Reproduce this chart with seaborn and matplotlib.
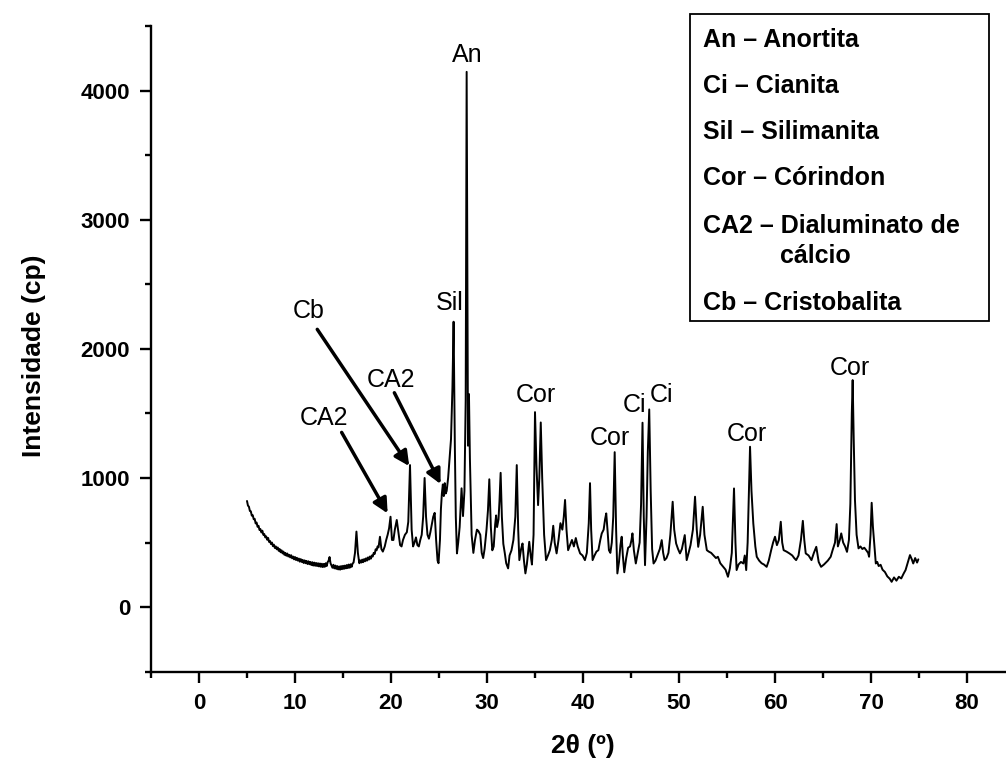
import matplotlib
matplotlib.use("Agg")
import matplotlib.pyplot as plt
from matplotlib.patches import Rectangle
from matplotlib.ticker import FixedLocator, MultipleLocator
import seaborn as sns
import pandas as pd

# X-ray diffractogram: diffraction angle 2θ (degrees) and counts
two_theta = [
    5.0, 5.1, 5.2, 5.3, 5.4, 5.5, 5.6, 5.7, 5.8, 5.9,
    6.0, 6.1, 6.2, 6.3, 6.4, 6.5, 6.6, 6.7, 6.8, 6.9,
    7.0, 7.1, 7.2, 7.3, 7.4, 7.5, 7.6, 7.7, 7.8, 7.9,
    8.0, 8.1, 8.2, 8.3, 8.4, 8.5, 8.6, 8.7, 8.8, 8.9,
    9.0, 9.1, 9.2, 9.3, 9.4, 9.5, 9.6, 9.7, 9.8, 9.9,
    10.0, 10.1, 10.2, 10.3, 10.4, 10.5, 10.6, 10.7, 10.8, 10.9,
    11.0, 11.1, 11.2, 11.3, 11.4, 11.5, 11.6, 11.7, 11.8, 11.9,
    12.0, 12.1, 12.2, 12.3, 12.4, 12.5, 12.6, 12.7, 12.8, 12.9,
    13.0, 13.1, 13.2, 13.3, 13.4, 13.5, 13.6, 13.7, 13.8, 13.9,
    14.0, 14.1, 14.2, 14.3, 14.4, 14.5, 14.6, 14.7, 14.8, 14.9,
    15.0, 15.1, 15.2, 15.3, 15.4, 15.5, 15.6, 15.7, 15.8, 15.9,
    16.0, 16.1, 16.25, 16.40, 16.55,
    16.70, 16.80, 16.90, 17.00, 17.10, 17.20, 17.30, 17.40, 17.50, 17.60,
    17.70, 17.80, 17.90, 18.00, 18.10, 18.20, 18.30, 18.40, 18.50, 18.60,
    18.70, 18.85, 19.00, 19.15, 19.35, 19.50, 19.65, 19.80, 19.95, 20.10,
    20.25, 20.40, 20.60, 20.80, 20.95, 21.10, 21.25, 21.45, 21.65, 21.80,
    21.98, 22.15, 22.30, 22.45, 22.60, 22.75, 22.90, 23.05, 23.20, 23.35,
    23.50, 23.65, 23.80, 23.95, 24.10, 24.25, 24.40, 24.55, 24.70, 24.85,
    24.95, 25.10, 25.20, 25.30, 25.40, 25.50, 25.60, 25.70, 25.80, 25.95,
    26.10, 26.25, 26.40, 26.52, 26.65, 26.75, 26.87, 27.00, 27.15, 27.35,
    27.50, 27.65, 27.78, 27.88, 28.02, 28.12, 28.22, 28.40, 28.58, 28.75,
    28.95, 29.10, 29.30, 29.45, 29.60, 29.75, 29.95, 30.10, 30.24, 30.40,
    30.55, 30.70, 30.85, 30.95, 31.05, 31.20, 31.30, 31.42, 31.55, 31.70,
    31.85, 32.00, 32.20, 32.35, 32.55, 32.75, 32.95, 33.10, 33.25, 33.37,
    33.55, 33.70, 33.85, 34.00, 34.15, 34.40, 34.55, 34.68, 34.85, 35.00,
    35.15, 35.32, 35.45, 35.60, 35.75, 35.95, 36.15, 36.35, 36.55, 36.75,
    36.90, 37.05, 37.25, 37.45, 37.65, 37.85, 38.00, 38.13, 38.28, 38.45,
    38.65, 38.85, 39.05, 39.25, 39.45, 39.70, 39.95, 40.20, 40.40, 40.60,
    40.73, 40.85, 41.00, 41.20, 41.40, 41.60, 41.80, 41.95, 42.15, 42.30,
    42.42, 42.55, 42.70, 42.85, 43.00, 43.15, 43.30, 43.45, 43.58, 43.75,
    43.90, 44.03, 44.15, 44.30, 44.50, 44.70, 44.90, 45.05, 45.15, 45.30,
    45.50, 45.70, 45.90, 46.05, 46.20, 46.33, 46.46, 46.62, 46.75, 46.90,
    47.05, 47.20, 47.35, 47.55, 47.75, 48.00, 48.20, 48.35, 48.50, 48.70,
    48.90, 49.10, 49.34, 49.50, 49.70, 49.90, 50.10, 50.30, 50.60, 50.80,
    51.00, 51.20, 51.45, 51.67, 51.85, 52.00, 52.20, 52.47, 52.65, 52.90,
    53.10, 53.35, 53.60, 53.85, 54.05, 54.30, 54.60, 54.85, 55.10, 55.30,
    55.50, 55.73, 55.88, 56.00, 56.20, 56.45, 56.70, 56.85, 57.00, 57.15,
    57.40, 57.55, 57.74, 57.95, 58.10, 58.35, 58.60, 58.85, 59.13, 59.35,
    59.60, 59.80, 60.00, 60.20, 60.40, 60.60, 60.75, 60.90, 61.20, 61.50,
    61.80, 62.00, 62.20, 62.45, 62.70, 62.90, 63.05, 63.20, 63.50, 63.80,
    64.05, 64.30, 64.55, 64.80, 65.10, 65.50, 65.80, 66.00, 66.25, 66.42,
    66.55, 66.75, 66.90, 67.10, 67.30, 67.50, 67.70, 67.85, 68.00, 68.09,
    68.20, 68.33, 68.50, 68.70, 68.90, 69.10, 69.30, 69.50, 69.70, 69.80,
    69.95, 70.07, 70.20, 70.35, 70.50, 70.65, 70.80, 71.00, 71.20, 71.45,
    71.70, 71.95, 72.15, 72.40, 72.65, 72.90, 73.15, 73.40, 73.60, 73.85,
    74.06, 74.25, 74.40, 74.60, 74.80, 74.93,
]
intensity = [
    822, 786, 778, 745, 742, 708, 712, 680, 684, 648,
    655, 622, 630, 598, 604, 578, 592, 560, 566, 540,
    548, 522, 536, 505, 512, 488, 500, 472, 484, 458,
    470, 448, 462, 436, 450, 425, 440, 416, 430, 405,
    420, 398, 415, 392, 405, 385, 402, 378, 392, 370,
    388, 365, 382, 360, 376, 352, 372, 350, 366, 342,
    362, 340, 358, 334, 355, 332, 350, 326, 348, 322,
    345, 320, 342, 318, 340, 315, 338, 312, 336, 310,
    335, 312, 340, 318, 348, 360, 388, 340, 322, 305,
    328, 300, 322, 296, 318, 292, 315, 290, 318, 294,
    320, 296, 322, 300, 326, 302, 330, 305, 332, 312,
    338, 345, 420, 585, 420,
    340, 362, 345, 368, 348, 372, 355, 378, 360, 385,
    368, 392, 375, 400, 392, 420, 412, 448, 440, 470,
    462, 545, 450, 430, 470, 520, 560, 610, 700, 520,
    520, 600, 675, 560, 480, 470, 520, 560, 580, 660,
    1100, 600, 470, 500, 540, 480, 470, 520, 560, 700,
    1000, 700, 560, 530, 580, 640, 700, 730, 520, 360,
    340, 520, 760, 880, 950, 860, 960, 880, 900, 1000,
    1150, 1300, 1700, 2210, 1250, 700, 416, 500, 620, 920,
    705, 900, 1600, 4145, 1250, 1650, 1150, 560, 420, 520,
    600, 590, 560, 420, 380, 450, 600, 750, 990, 620,
    440, 470, 640, 710, 620, 680, 820, 1040, 700, 490,
    420, 340, 300, 400, 440, 520, 700, 1100, 600, 364,
    450, 493, 360, 261, 330, 506, 400, 330, 560, 1510,
    1100, 790, 1000, 1430, 1000, 560, 364, 400, 441, 520,
    630, 500, 416, 520, 650, 600, 700, 830, 600, 441,
    480, 520, 470, 535, 470, 416, 400, 364, 420, 650,
    960, 600, 364, 400, 430, 441, 520, 570, 600, 680,
    726, 600, 441, 420, 500, 700, 1200, 600, 261, 350,
    480, 545, 400, 270, 380, 460, 470, 520, 571, 440,
    338, 420, 500, 800, 1428, 700, 325, 700, 1200, 1531,
    900, 450, 338, 360, 400, 450, 519, 420, 364, 380,
    420, 560, 816, 600, 493, 450, 416, 450, 558, 364,
    420, 480, 600, 855, 600, 467, 560, 777, 560, 441,
    430, 420, 400, 380, 390, 340, 312, 290, 235, 300,
    420, 919, 500, 287, 330, 350, 338, 400, 287, 500,
    1242, 900, 648, 470, 390, 360, 340, 330, 312, 360,
    441, 500, 545, 480, 520, 661, 500, 441, 430, 416,
    400, 380, 364, 400, 520, 668, 520, 416, 400, 364,
    420, 467, 350, 312, 330, 360, 390, 441, 500, 643,
    470, 520, 571, 500, 470, 428, 520, 800, 1500, 1758,
    1300, 829, 560, 455, 470, 450, 460, 441, 420, 390,
    560, 808, 622, 480, 338, 350, 318, 328, 290, 272,
    238, 220, 196, 230, 205, 235, 222, 260, 287, 350,
    403, 370, 338, 380, 345, 370,
]

# Phase labels placed directly above their peaks
peak_names = ["An", "Sil", "Cor", "Cor", "Ci", "Ci", "Cor", "Cor"]
peak_label_x = [27.9, 26.15, 35.1, 42.8, 45.4, 48.2, 57.1, 67.8]
peak_label_y = [4276, 2355, 1642, 1313, 1565, 1642, 1340, 1855]

# Phase labels connected to their peaks with arrows
arrow_names = ["Cb", "CA2", "CA2"]
arrow_text_xy = [(11.46, 2293), (19.98, 1758), (13.0, 1464)]
arrow_tail_xy = [(12.32, 2151), (20.35, 1660), (14.86, 1353)]
arrow_tip_xy = [(21.9, 1092), (25.17, 953), (19.65, 726)]

# Key of phase abbreviations
key_lines = [
    "An \u2013 Anortita",
    "Ci \u2013 Cianita",
    "Sil \u2013 Silimanita",
    "Cor \u2013 C\u00f3rindon",
    "CA2 \u2013 Dialuminato de",
    "c\u00e1lcio",
    "Cb \u2013 Cristobalita",
]

x_ticks = [0, 10, 20, 30, 40, 50, 60, 70, 80]
y_ticks = [0, 1000, 2000, 3000, 4000]

sns.set_style("ticks")
plt.rcParams["font.family"] = ["Liberation Sans", "DejaVu Sans"]
plt.rcParams.update({
    "text.color": "black",
    "axes.labelcolor": "black",
    "axes.edgecolor": "black",
    "xtick.color": "black",
    "ytick.color": "black",
})

W, H = 1006, 764
fig = plt.figure(figsize=(W / 100, H / 100), dpi=100)
ax_left, ax_bottom, ax_right, ax_top = 151, 671.7, 1015, 26
ax = fig.add_axes([ax_left / W, 1 - ax_bottom / H,
                   (ax_right - ax_left) / W, (ax_bottom - ax_top) / H])

df = pd.DataFrame({"two_theta": two_theta, "intensity": intensity})
sns.lineplot(data=df, x="two_theta", y="intensity", ax=ax,
             color="black", linewidth=1.4, sort=False, estimator=None)

ax.set_xlim(-5, 85)
ax.set_ylim(-500, 4500)
ax.xaxis.set_major_locator(FixedLocator(x_ticks))
ax.xaxis.set_minor_locator(MultipleLocator(5))
ax.yaxis.set_major_locator(FixedLocator(y_ticks))
ax.yaxis.set_minor_locator(MultipleLocator(500))
ax.set_xticklabels([str(v) for v in x_ticks])
ax.set_yticklabels([str(v) for v in y_ticks])

for side in ("top", "right"):
    ax.spines[side].set_visible(False)
for side in ("left", "bottom"):
    ax.spines[side].set_linewidth(1.7)

ax.tick_params(which="major", direction="out", length=8, width=1.7,
               labelsize=16, pad=7)
ax.tick_params(which="minor", direction="out", length=4.5, width=1.7)
for lbl in ax.get_xticklabels() + ax.get_yticklabels():
    lbl.set_fontweight("bold")

ax.set_xlabel("2\u03b8 (\u00ba)", fontsize=19, fontweight="bold")
ax.set_ylabel("Intensidade (cp)", fontsize=19, fontweight="bold")
ax.xaxis.set_label_coords(0.5, -0.096)
ax.yaxis.set_label_coords(-0.122, 0.49)

for name, x, y in zip(peak_names, peak_label_x, peak_label_y):
    ax.text(x, y, name, ha="center", va="center", fontsize=18)

for name, txy, tail, tip in zip(arrow_names, arrow_text_xy,
                                arrow_tail_xy, arrow_tip_xy):
    ax.text(txy[0], txy[1], name, ha="center", va="center", fontsize=18)
    ax.annotate("", xy=tip, xytext=tail,
                arrowprops=dict(arrowstyle="-|>", color="black", lw=2.5,
                                mutation_scale=22, shrinkA=0, shrinkB=0))

# Key box in the upper right corner
box_l, box_t, box_r, box_b = 690, 14, 989, 321
fig.patches.append(Rectangle((box_l / W, 1 - box_b / H),
                             (box_r - box_l) / W, (box_b - box_t) / H,
                             transform=fig.transFigure, fill=False,
                             edgecolor="black", linewidth=1.3))
key_baselines = [47, 93, 139, 185, 233, 263, 310]
key_x = [703, 703, 703, 703, 703, 780, 703]
for line, kx, ky in zip(key_lines, key_x, key_baselines):
    fig.text(kx / W, 1 - ky / H, line, ha="left", va="baseline",
             fontsize=18, fontweight="bold")

fig.savefig("out.png", dpi=100)
